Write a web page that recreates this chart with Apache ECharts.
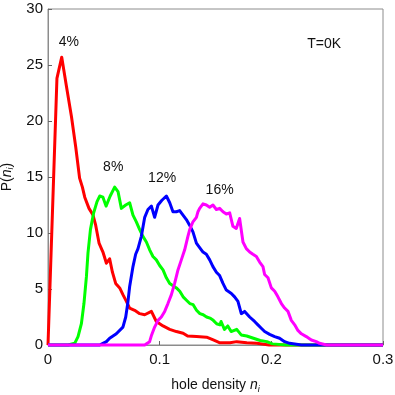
<!DOCTYPE html>
<html>
<head>
<meta charset="utf-8">
<script src="https://cdn.jsdelivr.net/npm/echarts@6/dist/echarts.min.js"></script>
<style>
  html, body { margin: 0; padding: 0; background: #fff; }
  #chart { width: 395px; height: 395px; }
</style>
</head>
<body>
<div id="chart"></div>
<script>
// hole density n_i vs P(n_i)
const red4 = [
  [0, 0], [0.0015, 0], [0.008, 23.8], [0.0123, 25.7], [0.0165, 23.1], [0.021, 20.4],
  [0.0248, 17.7], [0.0283, 14.9], [0.0308, 14.1], [0.0329, 13.2], [0.0367, 12.2],
  [0.0403, 11.6], [0.0427, 10.7], [0.0457, 9.1], [0.0492, 8.3], [0.0523, 7.3],
  [0.0552, 7.7], [0.0577, 6.5], [0.0606, 5.5], [0.0642, 5.1], [0.0671, 4.5],
  [0.0702, 3.9], [0.0731, 3.3], [0.0776, 3.1], [0.0821, 2.8], [0.0866, 2.7],
  [0.0926, 3.0], [0.097, 2.1], [0.103, 1.7], [0.109, 1.4], [0.115, 1.2],
  [0.121, 1.05], [0.125, 0.8], [0.133, 0.75], [0.142, 0.7], [0.148, 0.45],
  [0.154, 0.2], [0.163, 0.2], [0.169, 0.3], [0.178, 0.2], [0.187, 0.15],
  [0.198, 0], [0.3, 0]
];
const green8 = [
  [0, 0], [0.018, 0], [0.0239, 0.15], [0.0269, 0.75], [0.0299, 1.9], [0.0322, 3.7],
  [0.0344, 6.1], [0.0358, 8.2], [0.038, 10.3], [0.0409, 11.8], [0.0439, 12.8],
  [0.0463, 13.3], [0.0492, 13.2], [0.052, 12.4], [0.0557, 13.3], [0.0597, 14.1],
  [0.0627, 13.7], [0.0657, 12.2], [0.0696, 12.5], [0.0731, 12.7], [0.0761, 11.6],
  [0.0791, 11.0], [0.0821, 10.3], [0.085, 9.7], [0.0881, 9.2], [0.091, 8.5],
  [0.094, 7.9], [0.097, 7.6], [0.1, 7.1], [0.103, 6.7], [0.106, 6.0], [0.109, 5.5],
  [0.112, 5.3], [0.115, 5.1], [0.118, 4.8], [0.121, 4.3], [0.124, 4.0], [0.127, 3.7],
  [0.13, 3.6], [0.133, 3.1], [0.136, 2.8], [0.139, 2.7], [0.142, 2.5], [0.145, 2.4],
  [0.148, 2.2], [0.151, 1.9], [0.154, 1.8], [0.155, 2.1], [0.158, 1.4], [0.161, 1.7],
  [0.164, 1.2], [0.169, 1.4], [0.173, 0.9], [0.178, 0.8], [0.184, 0.6], [0.19, 0.4],
  [0.196, 0.3], [0.201, 0.1], [0.213, 0], [0.3, 0]
];
const blue12 = [
  [0, 0], [0.0463, 0], [0.0492, 0.15], [0.0523, 0.3], [0.0552, 0.6], [0.0612, 1.0],
  [0.0671, 1.6], [0.0696, 2.5], [0.0714, 3.7], [0.0731, 5.2], [0.0761, 7.0],
  [0.0785, 8.1], [0.0806, 8.6], [0.0836, 9.7], [0.0866, 11.4], [0.0895, 12.1],
  [0.0926, 12.4], [0.0955, 11.4], [0.0985, 12.5], [0.1018, 12.9], [0.106, 13.3],
  [0.109, 12.7], [0.1119, 11.9], [0.115, 11.9], [0.1179, 12.0], [0.1209, 11.6],
  [0.1239, 11.2], [0.1268, 10.7], [0.1298, 10.1], [0.1329, 9.1], [0.1358, 8.7],
  [0.1388, 8.3], [0.1418, 8.1], [0.1448, 7.6], [0.1477, 7.0], [0.1508, 6.5],
  [0.1537, 6.2], [0.1567, 5.5], [0.1597, 4.9], [0.1642, 4.6], [0.1671, 4.3],
  [0.1701, 3.9], [0.1731, 2.8], [0.1761, 3.0], [0.1806, 2.5], [0.185, 2.1],
  [0.188, 1.8], [0.191, 1.5], [0.194, 1.2], [0.1985, 0.95], [0.203, 0.75],
  [0.2074, 0.6], [0.2119, 0.3], [0.2164, 0.15], [0.227, 0], [0.3, 0]
];
const magenta16 = [
  [0, 0], [0.0866, 0], [0.091, 0.3], [0.0928, 0.9], [0.0955, 1.6], [0.0985, 2.2],
  [0.1015, 2.5], [0.1045, 3.0], [0.1074, 3.7], [0.1105, 4.5], [0.1134, 5.5],
  [0.1164, 6.7], [0.1194, 7.6], [0.1224, 8.5], [0.1253, 9.7], [0.1269, 10.3],
  [0.1298, 11.0], [0.1329, 11.4], [0.1343, 11.9], [0.1358, 12.2], [0.1388, 12.6],
  [0.1418, 12.5], [0.1448, 12.3], [0.1477, 12.5], [0.1508, 12.1], [0.1537, 12.2],
  [0.1567, 11.9], [0.1597, 11.7], [0.1627, 11.8], [0.1656, 10.6], [0.1686, 10.4],
  [0.1716, 11.3], [0.1746, 9.2], [0.1776, 8.6], [0.1806, 8.3], [0.1835, 8.1],
  [0.1866, 7.9], [0.1895, 7.4], [0.1925, 7.0], [0.194, 6.3], [0.197, 6.0],
  [0.2, 5.1], [0.203, 4.8], [0.2059, 4.3], [0.209, 3.7], [0.2119, 3.3],
  [0.2149, 3.0], [0.2179, 2.2], [0.2209, 1.8], [0.2238, 1.3], [0.2269, 1.0],
  [0.2313, 0.75], [0.2358, 0.45], [0.2403, 0.3], [0.2432, 0.15], [0.2495, 0], [0.3, 0]
];
// annotations [n, P, text]
const notes = [
  [0.0186, 27.0, '4%'],
  [0.0584, 15.9, '8%'],
  [0.1022, 14.9, '12%'],
  [0.1537, 13.8, '16%'],
  [0.2473, 26.9, 'T=0K']
];
const xTicks = [0, 0.1, 0.2, 0.3];
const yTicks = [0, 5, 10, 15, 20, 25, 30];

const font = 'Liberation Sans, Arial, sans-serif';
const chart = echarts.init(document.getElementById('chart'));

const line = (data, color) => ({
  type: 'line',
  data: data,
  showSymbol: false,
  clip: false,
  animation: false,
  lineStyle: { color: color, width: 3, join: 'round' }
});

const nameRich = {
  it: { fontStyle: 'italic', fontSize: 14, fontFamily: font, color: '#111' },
  sub: { fontStyle: 'italic', fontSize: 9, fontFamily: font, color: '#111', padding: [8, 0, 0, 0] }
};

chart.setOption({
  animation: false,
  grid: {
    left: 48, right: 12, top: 9, bottom: 50,
    outerBoundsMode: 'none', containLabel: false,
    show: true, borderColor: '#8c8c8c', borderWidth: 1
  },
  xAxis: {
    type: 'value', min: xTicks[0], max: xTicks[xTicks.length - 1], interval: 0.1,
    name: 'hole density {it|n}{sub|i}',
    nameLocation: 'middle', nameGap: 32,
    nameTextStyle: { color: '#111', fontSize: 14, fontFamily: font, rich: nameRich },
    axisLine: { show: true, lineStyle: { color: '#8c8c8c' } },
    axisTick: { show: true, inside: true, length: 4, lineStyle: { color: '#666' } },
    splitLine: { show: false },
    axisLabel: { color: '#111', fontSize: 15, fontFamily: font, margin: 7, formatter: v => String(v) }
  },
  yAxis: {
    type: 'value', min: yTicks[0], max: yTicks[yTicks.length - 1], interval: 5,
    name: 'P({it|n}{sub|i})',
    nameLocation: 'middle', nameGap: 30, nameRotate: 90,
    nameTextStyle: { color: '#111', fontSize: 14, fontFamily: font, rich: nameRich },
    axisLine: { show: true, lineStyle: { color: '#8c8c8c' } },
    axisTick: { show: true, inside: true, length: 4, lineStyle: { color: '#666' } },
    splitLine: { show: false },
    axisLabel: { color: '#111', fontSize: 15, fontFamily: font, margin: 5 }
  },
  series: [
    line(red4, '#ff0000'),
    line(green8, '#00ff00'),
    line(blue12, '#0000ff'),
    line(magenta16, '#ff00ff'),
    {
      type: 'scatter',
      symbolSize: 0,
      silent: true,
      itemStyle: { opacity: 1 },
      data: notes.map(d => ({ value: [d[0], d[1]], name: d[2] })),
      label: {
        show: true, position: 'inside', formatter: p => p.name,
        color: '#111', opacity: 1, fontSize: 14, fontFamily: font
      }
    }
  ]
});
</script>
</body>
</html>
